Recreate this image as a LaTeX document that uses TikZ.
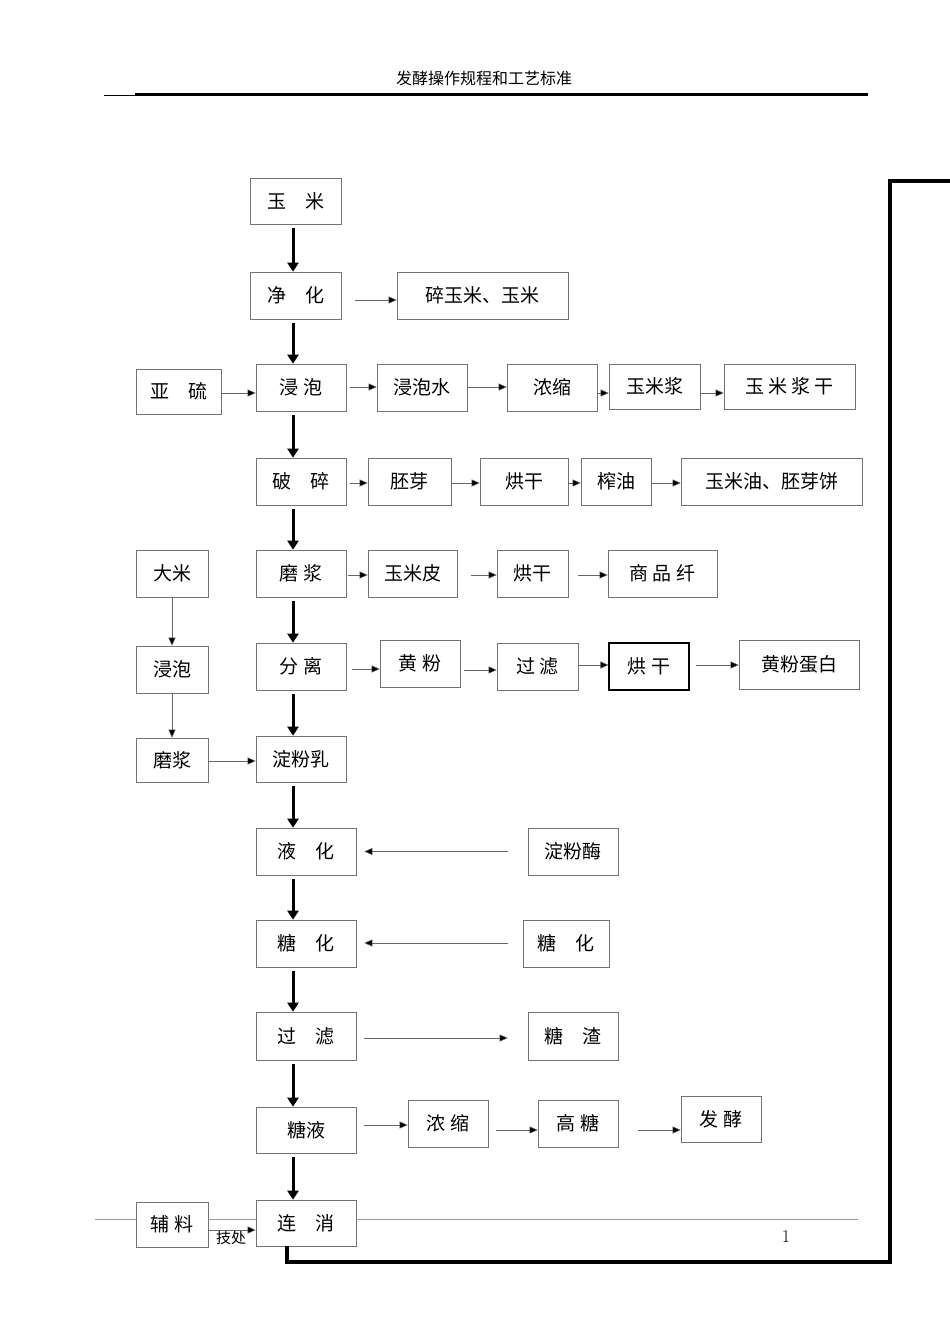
\documentclass[tikz,border=0pt]{standalone}
\usepackage{fontspec}
\newfontfamily\cjk{Noto Sans CJK SC}
\usetikzlibrary{arrows.meta}
\begin{document}
\begin{tikzpicture}[x=1pt,y=-1pt,
 box/.style={draw=black!55,line width=0.6pt,inner sep=0pt,font=\cjk\fontsize{19}{19}\selectfont},
 thk/.style={line width=3pt,-{Triangle[length=9pt,width=11pt]}},
 thn/.style={draw=black!60,line width=0.5pt,-{Triangle[length=8pt,width=7pt,fill=black]}}]
\useasboundingbox (0,0) rectangle (950,1344);
\newcommand\bx[6]{\node[box,minimum width={#4-#2},minimum height={#5-#3}] (#1) at ({(#2+#4)/2},{(#3+#5)/2}) {#6};}
\newcommand\ha[4]{\draw[thn] ([xshift=#3pt]#1.east |- 0,#4) -- (#2.west |- 0,#4);}
\node[font=\cjk\fontsize{16}{16}\selectfont] (hd) at (484,78) {发酵操作规程和工艺标准};
\draw[line width=1pt] (104,95) -- (868,95);
\draw[line width=3pt] (135,94) -- (868,94);
\bx{a}{250}{178}{341}{224}{玉\quad 米}
\bx{b}{250}{272}{341}{319}{净\quad 化}
\bx{b2}{397}{272}{568}{319}{碎玉米、玉米}
\bx{c0}{136}{369}{221}{414}{亚\quad 硫}
\bx{c}{256}{364}{346}{411}{浸 泡}
\bx{c2}{377}{364}{467}{411}{浸泡水}
\bx{c3}{507}{364}{597}{411}{浓缩}
\bx{c4}{609}{364}{700}{409}{玉米浆}
\bx{c5}{724}{364}{855}{409}{玉 米 浆 干}
\bx{d}{256}{458}{346}{505}{破\quad 碎}
\bx{d2}{368}{458}{451}{505}{胚芽}
\bx{d3}{480}{458}{568}{505}{烘干}
\bx{d4}{581}{458}{651}{505}{榨油}
\bx{d5}{681}{458}{862}{505}{玉米油、胚芽饼}
\bx{r1}{136}{550}{208}{597}{大米}
\bx{e}{256}{550}{346}{597}{磨 浆}
\bx{e2}{368}{550}{457}{597}{玉米皮}
\bx{e3}{497}{550}{568}{597}{烘干}
\bx{e4}{608}{550}{717}{597}{商 品 纤}
\bx{r2}{136}{646}{208}{693}{浸泡}
\bx{f}{256}{643}{346}{690}{分 离}
\bx{f2}{380}{640}{460}{687}{黄 粉}
\bx{f3}{497}{643}{578}{690}{过 滤}
\node[box,draw=black,line width=1.2pt,minimum width=80,minimum height=47] (f4) at (649,666.5) {烘 干};
\bx{f5}{739}{640}{859}{689}{黄粉蛋白}
\bx{r3}{136}{738}{208}{782}{磨浆}
\bx{g}{256}{736}{346}{782}{淀粉乳}
\bx{h}{256}{828}{356}{875}{液\quad 化}
\bx{h2}{528}{828}{618}{875}{淀粉酶}
\bx{i}{256}{920}{356}{967}{糖\quad 化}
\bx{i2}{523}{920}{609}{967}{糖\quad 化}
\bx{j}{256}{1012}{356}{1060}{过\quad 滤}
\bx{j2}{528}{1012}{618}{1060}{糖\quad 渣}
\bx{k}{256}{1107}{356}{1153}{糖液}
\bx{k2}{408}{1100}{488}{1147}{浓 缩}
\bx{k3}{538}{1100}{618}{1147}{高 糖}
\bx{k4}{681}{1096}{761}{1142}{发 酵}
\bx{l0}{136}{1202}{208}{1247}{辅 料}
\bx{l}{256}{1200}{356}{1246}{连\quad 消}
% thick down arrows
\foreach \u/\v in {a/b,b/c,c/d,d/e,e/f,f/g,g/h,h/i,i/j,j/k,k/l}
 \draw[thk] ([yshift=-4pt]\u.south -| 293,0) -- (\v.north -| 293,0);
% thin arrows
\ha{b}{b2}{14}{300}
\ha{c0}{c}{0}{393}
\ha{c}{c2}{4}{387}
\ha{c2}{c3}{0}{387}
\ha{c3}{c4}{0}{393}
\ha{c4}{c5}{0}{393}
\ha{d}{d2}{4}{483}
\ha{d2}{d3}{0}{483}
\ha{d3}{d4}{0}{483}
\ha{d4}{d5}{0}{483}
\ha{e}{e2}{2}{575}
\ha{e2}{e3}{14}{575}
\ha{e3}{e4}{10}{575}
\ha{f}{f2}{6}{669}
\ha{f2}{f3}{4}{670}
\ha{f3}{f4}{0}{665}
\ha{f4}{f5}{6}{665}
\draw[thn] (r1.south) -- (r2.north);
\draw[thn] (r2.south) -- (r3.north);
\ha{r3}{g}{0}{761}
\draw[thn] ([xshift=-20pt]h2.west) -- ([xshift=8pt]h.east);
\draw[thn] ([xshift=-15pt]i2.west |- 0,943) -- ([xshift=8pt]i.east |- 0,943);
\draw[thn] ([xshift=8pt]j.east |- 0,1038) -- ([xshift=-20pt]j2.west |- 0,1038);
\ha{k}{k2}{8}{1125}
\ha{k2}{k3}{8}{1130}
\draw[thn] ([xshift=20pt]k3.east |- 0,1130) -- (k4.west |- 0,1130);
% footer
\draw[black!40,line width=0.6pt] (95,1219) -- (136,1219) (208,1219) -- (256,1219) (356,1219) -- (858,1219);
\node[font=\cjk\fontsize{15}{15}\selectfont,anchor=west,inner sep=0pt] (ft) at (216,1238) {技处};
\draw[thn] (208,1230) -- (l.west |- 0,1230);
\node[font=\fontsize{18}{18}\selectfont] (pg) at (786,1237) {1};
\coordinate (z1) at (287,1262); \coordinate (z2) at (890,1262);
\coordinate (z3) at (890,181); \coordinate (z4) at (950,181);
\draw[line width=3.5pt] (l.south -| z1) -- (z1) -- (z2) -- (z3) -- (z4);
\end{tikzpicture}
\end{document}
